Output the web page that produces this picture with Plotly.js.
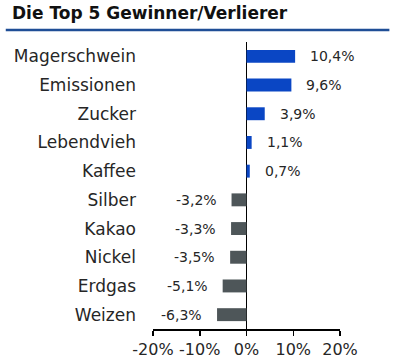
<!DOCTYPE html>
<html>
<head>
<meta charset="utf-8">
<script src="https://cdn.plot.ly/plotly-3.0.1.min.js"></script>
<style>html,body{margin:0;padding:0;background:#fff;}#chart{width:401px;height:362px;}</style>
</head>
<body>
<div id="chart"></div>
<script>
const categories = ["Magerschwein","Emissionen","Zucker","Lebendvieh","Kaffee","Silber","Kakao","Nickel","Erdgas","Weizen"];
const values = [10.4, 9.6, 3.9, 1.1, 0.7, -3.2, -3.3, -3.5, -5.1, -6.3];
const tickVals = [-20, -10, 0, 10, 20];
const tickLabels = ["-20%", "-10%", "0%", "10%", "20%"];
const titleText = "Die Top 5 Gewinner/Verlierer";

const blue = "#0A46C4";
const gray = "#4E5659";
const textColor = "#262626";
const fontFam = "DejaVu Sans, sans-serif";

const colors = values.map(v => v >= 0 ? blue : gray);
const fmt = v => v.toFixed(1).replace(".", ",") + "%";

const annotations = values.map((v, i) => ({
  x: v, y: categories[i], xref: "x", yref: "y",
  text: fmt(v), showarrow: false,
  xanchor: v >= 0 ? "left" : "right",
  xshift: v >= 0 ? 13 : -13,
  font: {family: fontFam, size: 14, color: textColor}
}));

const trace = {
  type: "bar", orientation: "h",
  x: values, y: categories,
  marker: {color: colors},
  hoverinfo: "none"
};

const layout = {
  width: 401, height: 362,
  margin: {l: 153, r: 61.3, t: 42, b: 33, pad: 0},
  paper_bgcolor: "#fff", plot_bgcolor: "#fff",
  showlegend: false,
  bargap: 0.55,
  title: {
    text: "<b>" + titleText + "</b>",
    x: 12/401, xanchor: "left", xref: "container",
    y: 1 - 13/362, yanchor: "middle", yref: "container",
    font: {family: fontFam, size: 17, color: "#111"}
  },
  xaxis: {
    range: [-20, 20], fixedrange: true,
    tickvals: tickVals, ticktext: tickLabels,
    showgrid: false,
    zeroline: true, zerolinecolor: "#000", zerolinewidth: 1.5,
    showline: true, linecolor: "#000", linewidth: 1.5,
    ticks: "outside", ticklen: 5, tickcolor: "#000", tickwidth: 1.5,
    tickfont: {family: fontFam, size: 16, color: textColor}
  },
  yaxis: {
    type: "category", autorange: "reversed", fixedrange: true,
    showgrid: false, zeroline: false, showline: false, ticks: "",
    ticklabelstandoff: 16,
    tickfont: {family: fontFam, size: 17, color: textColor}
  },
  shapes: [{
    type: "line", xref: "paper", yref: "paper",
    x0: (6-153)/186.7, x1: (389-153)/186.7,
    y0: (329-30)/287, y1: (329-30)/287,
    line: {color: "#1F4E96", width: 2.5}
  }],
  annotations: annotations
};

Plotly.newPlot("chart", [trace], layout, {displayModeBar: false, staticPlot: true});
</script>
</body>
</html>
